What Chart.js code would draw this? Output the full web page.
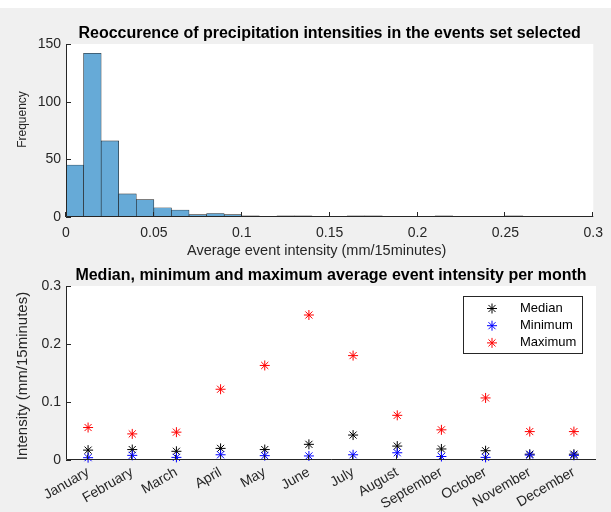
<!DOCTYPE html>
<html>
<head>
<meta charset="utf-8">
<script src="https://cdn.jsdelivr.net/npm/chart.js@4.4.0/dist/chart.umd.min.js"></script>
<style>
body { margin: 0; background: #f0f0f0; width: 611px; height: 512px; overflow: hidden; position: relative; }
#strip { position: absolute; left: 0; top: 0; width: 611px; height: 8px; background: #fff; }
.box { position: absolute; left: 0; width: 611px; }
#top { top: 0; height: 260px; }
#bottom { top: 260px; height: 252px; }
</style>
</head>
<body>
<div id="strip"></div>
<div class="box" id="top"><canvas id="histChart"></canvas></div>
<div class="box" id="bottom"><canvas id="monthChart"></canvas></div>
<script>
// Гистограмма: левые края корзин (шаг 0.01) и число событий в каждой
const binLeft = [0, 0.01, 0.02, 0.03, 0.04, 0.05, 0.06, 0.07, 0.08, 0.09,
	0.1, 0.11, 0.12, 0.13, 0.14, 0.15, 0.16, 0.17, 0.18, 0.19,
	0.2, 0.21, 0.22, 0.23, 0.24, 0.25, 0.26, 0.27, 0.28, 0.29];
const binCounts = [45, 142, 66, 20, 15, 8, 6, 2, 3, 2,
	1, 0, 1, 1, 0, 0, 1, 1, 0, 0,
	0, 1, 0, 0, 0, 1, 0, 0, 0, 0];
const binWidth = 0.01;
const histXTicks = [0, 0.05, 0.1, 0.15, 0.2, 0.25, 0.3];
const histXLabels = ['0', '0.05', '0.1', '0.15', '0.2', '0.25', '0.3'];
const histYTicks = [0, 50, 100, 150];

// Помесячные значения
const months = ['January', 'February', 'March', 'April', 'May', 'June',
	'July', 'August', 'September', 'October', 'November', 'December'];
const medianVals = [0.017, 0.018, 0.015, 0.020, 0.018, 0.027, 0.043, 0.024, 0.019, 0.016, 0.010, 0.010];
const minVals = [0.004, 0.008, 0.0045, 0.009, 0.0075, 0.007, 0.009, 0.0125, 0.006, 0.0045, 0.0085, 0.008];
const maxVals = [0.056, 0.045, 0.048, 0.122, 0.163, 0.250, 0.180, 0.077, 0.052, 0.107, 0.049, 0.049];
const monthYTicks = [0, 0.1, 0.2, 0.3];
const monthYLabels = ['0', '0.1', '0.2', '0.3'];

const FONT = '"Liberation Sans", Arial, Helvetica, sans-serif';
const AX = '#262626';

// Белая область осей, оси с внутренними засечками, подписи и легенда (как в MATLAB)
const axesLook = {
	id: 'axesLook',
	beforeDraw(chart) {
		const { ctx, chartArea: a } = chart;
		ctx.save();
		ctx.fillStyle = '#fff';
		ctx.fillRect(a.left, a.top, a.right - a.left, a.bottom - a.top);
		ctx.restore();
	},
	afterDraw(chart, args, opts) {
		const { ctx, chartArea: a, scales } = chart;
		const cx = (a.left + a.right) / 2;
		const cy = (a.top + a.bottom) / 2;
		ctx.save();
		ctx.strokeStyle = AX;
		ctx.lineWidth = 1;
		ctx.beginPath();
		ctx.moveTo(a.left + 0.5, a.top);
		ctx.lineTo(a.left + 0.5, a.bottom - 0.5);
		ctx.lineTo(a.right, a.bottom - 0.5);
		scales.x.ticks.forEach((t, i) => {
			const px = Math.round(scales.x.getPixelForTick(i)) - 0.5;
			ctx.moveTo(px, a.bottom);
			ctx.lineTo(px, a.bottom - 5);
		});
		scales.y.ticks.forEach((t, i) => {
			const py = Math.round(scales.y.getPixelForTick(i)) + 0.5;
			ctx.moveTo(a.left, py);
			ctx.lineTo(a.left + 5, py);
		});
		ctx.stroke();

		// заголовок
		ctx.fillStyle = '#000';
		ctx.font = 'bold 16px ' + FONT;
		ctx.textAlign = 'center';
		ctx.textBaseline = 'alphabetic';
		ctx.fillText(opts.title, cx, a.top - 6);

		// подписи осей
		ctx.fillStyle = AX;
		ctx.textBaseline = 'middle';
		if (opts.xTitle) {
			ctx.font = opts.xTitle.size + 'px ' + FONT;
			ctx.fillText(opts.xTitle.text, cx + opts.xTitle.dx, opts.xTitle.y);
		}
		if (opts.yTitle) {
			ctx.save();
			ctx.translate(opts.yTitle.x, cy + opts.yTitle.dy);
			ctx.rotate(-Math.PI / 2);
			ctx.font = opts.yTitle.size + 'px ' + FONT;
			ctx.fillText(opts.yTitle.text, 0, 0);
			ctx.restore();
		}

		if (opts.legend) {
			const bx = a.right - 133, by = a.top + 10, bw = 119, bh = 57;
			ctx.fillStyle = '#fff';
			ctx.fillRect(bx, by, bw, bh);
			ctx.strokeStyle = AX;
			ctx.strokeRect(bx + 0.5, by + 0.5, bw, bh);
			ctx.font = '13px ' + FONT;
			ctx.textAlign = 'left';
			ctx.textBaseline = 'middle';
			chart.data.datasets.forEach((ds, i) => {
				const y = by + 12.5 + i * 17.2;
				ctx.strokeStyle = ds.borderColor;
				ctx.lineWidth = 1;
				Chart.helpers.drawPoint(ctx, { pointStyle: 'star', radius: 5, borderWidth: 1, rotation: 0 }, bx + 29, y);
				ctx.fillStyle = '#000';
				ctx.fillText(ds.label, bx + 57, y);
			});
		}
		ctx.restore();
	}
};

const tickFont = { family: FONT, size: 14 };
const noGrid = { display: false, drawTicks: false };

new Chart(document.getElementById('histChart'), {
	type: 'bar',
	data: {
		datasets: [{
			data: binLeft.map((x, i) => ({ x: x + binWidth / 2, y: binCounts[i] })),
			backgroundColor: 'rgb(102,170,215)',
			borderColor: '#1a1a1a',
			borderWidth: 0.6,
			barPercentage: 1,
			categoryPercentage: 1
		}]
	},
	options: {
		responsive: true,
		maintainAspectRatio: false,
		animation: false,
		layout: { padding: { top: 44, right: 15, left: 0, bottom: 0 } },
		plugins: {
			legend: { display: false },
			tooltip: { enabled: false },
			axesLook: {
				title: 'Reoccurence of precipitation intensities in the events set selected',
				xTitle: { text: 'Average event intensity (mm/15minutes)', size: 14.5, dx: -13, y: 250.5 },
				yTitle: { text: 'Frequency', size: 12, x: 22.5, dy: -11 }
			}
		},
		scales: {
			x: {
				type: 'linear',
				min: 0,
				max: 0.3,
				offset: false,
				afterBuildTicks: s => { s.ticks = histXTicks.map(v => ({ value: v })); },
				afterFit: s => { s.height = 43; },
				grid: noGrid,
				border: { display: false },
				ticks: { font: tickFont, color: AX, padding: 8, maxRotation: 0, callback: (v, i) => histXLabels[i] }
			},
			y: {
				min: 0,
				max: 150,
				afterBuildTicks: s => { s.ticks = histYTicks.map(v => ({ value: v })); },
				afterFit: s => { s.width = 66; },
				grid: noGrid,
				border: { display: false },
				ticks: { font: tickFont, color: AX, padding: 5 }
			}
		}
	},
	plugins: [axesLook]
});

const star = color => ({
	borderColor: color,
	backgroundColor: color,
	pointStyle: 'star',
	pointRadius: 5,
	pointBorderWidth: 1,
	showLine: false,
	clip: false
});

new Chart(document.getElementById('monthChart'), {
	type: 'line',
	data: {
		labels: months,
		datasets: [
			{ label: 'Median', data: medianVals, order: 3, ...star('#000000') },
			{ label: 'Minimum', data: minVals, order: 2, ...star('#0000ff') },
			{ label: 'Maximum', data: maxVals, order: 1, ...star('#ff0000') }
		]
	},
	options: {
		responsive: true,
		maintainAspectRatio: false,
		animation: false,
		layout: { padding: { top: 26, right: 15, left: 0, bottom: 0 } },
		plugins: {
			legend: { display: false },
			tooltip: { enabled: false },
			axesLook: {
				title: 'Median, minimum and maximum average event intensity per month',
				yTitle: { text: 'Intensity (mm/15minutes)', size: 15, x: 22.5, dy: 3 },
				legend: true
			}
		},
		scales: {
			x: {
				type: 'category',
				offset: true,
				afterFit: s => { s.height = 52; },
				grid: noGrid,
				border: { display: false },
				ticks: { font: tickFont, color: AX, padding: 4, minRotation: 30, maxRotation: 30, autoSkip: false }
			},
			y: {
				min: 0,
				max: 0.3,
				afterBuildTicks: s => { s.ticks = monthYTicks.map(v => ({ value: v })); },
				afterFit: s => { s.width = 66; },
				grid: noGrid,
				border: { display: false },
				ticks: { font: tickFont, color: AX, padding: 5, callback: (v, i) => monthYLabels[i] }
			}
		}
	},
	plugins: [axesLook]
});
</script>
</body>
</html>
